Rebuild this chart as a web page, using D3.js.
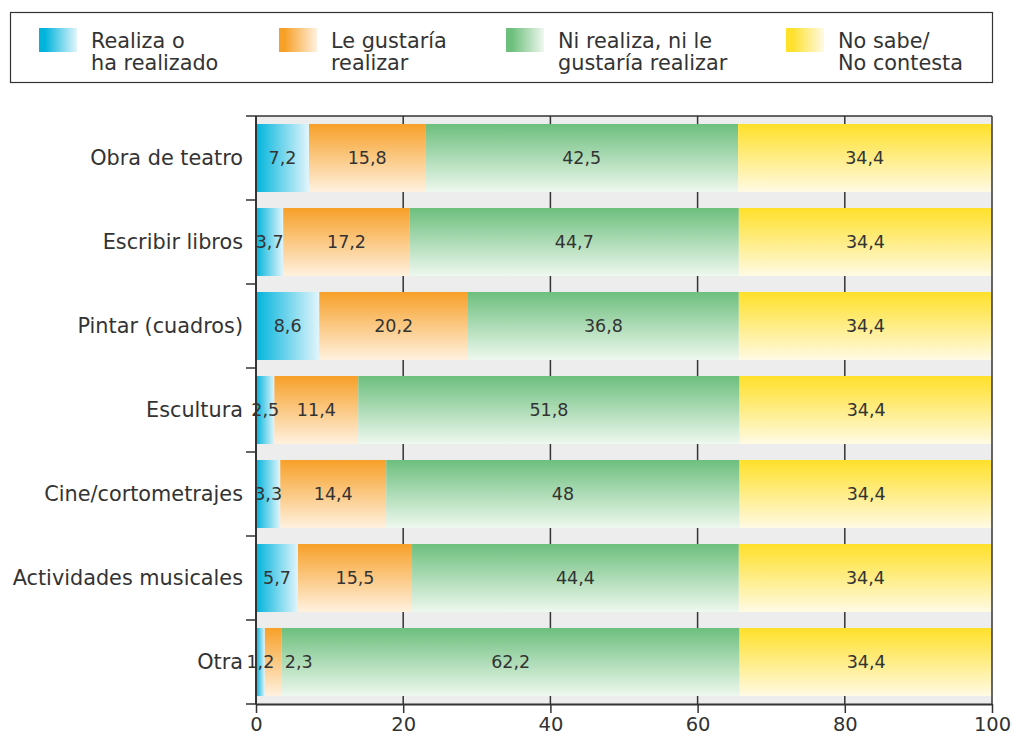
<!DOCTYPE html>
<html><head><meta charset="utf-8">
<script src="https://cdn.jsdelivr.net/npm/d3@7"></script>
<style>
body{margin:0;background:#fff;}
text{font-family:"DejaVu Sans",sans-serif;fill:#333;}
</style></head>
<body><svg id="c" width="1016" height="740"></svg>
<script>
const categories = ["Obra de teatro","Escribir libros","Pintar (cuadros)","Escultura","Cine/cortometrajes","Actividades musicales","Otra"];
const realiza = [7.2,3.7,8.6,2.5,3.3,5.7,1.2];
const gustaria = [15.8,17.2,20.2,11.4,14.4,15.5,2.3];
const niRealiza = [42.5,44.7,36.8,51.8,48,44.4,62.2];
const noSabe = [34.4,34.4,34.4,34.4,34.4,34.4,34.4];
const seriesNames = [["Realiza o","ha realizado"],["Le gustaría","realizar"],["Ni realiza, ni le","gustaría realizar"],["No sabe/","No contesta"]];
const xTicks = [0,20,40,60,80,100];

const seriesVals = [realiza,gustaria,niRealiza,noSabe];
const svg = d3.select("#c");
const defs = svg.append("defs");
const grads = [
  {id:"g0",dir:"h",c1:"#00b4dc",c2:"#e2f5fb"},
  {id:"g1",dir:"v",c1:"#f7a028",c2:"#fff1df"},
  {id:"g2",dir:"v",c1:"#6dbf7d",c2:"#eef8ef"},
  {id:"g3",dir:"v",c1:"#ffe02a",c2:"#fffae4"}
];
grads.forEach(g=>{
  const lg = defs.append("linearGradient").attr("id",g.id)
    .attr("x1",0).attr("y1",0).attr("x2",g.dir==="h"?1:0).attr("y2",g.dir==="h"?0:1);
  lg.append("stop").attr("offset","0%").attr("stop-color",g.c1);
  lg.append("stop").attr("offset","100%").attr("stop-color",g.c2);
  const lh = defs.append("linearGradient").attr("id",g.id+"L")
    .attr("x1",0).attr("y1",0).attr("x2",1).attr("y2",0);
  lh.append("stop").attr("offset","15%").attr("stop-color",g.c1);
  lh.append("stop").attr("offset","100%").attr("stop-color",g.c2);
});

// Legend
svg.append("rect").attr("x",10.5).attr("y",12.5).attr("width",982).attr("height",70)
  .attr("fill","#fff").attr("stroke","#333").attr("stroke-width",1.2);
const legX = [39,279,506,786];
seriesNames.forEach((n,i)=>{
  svg.append("rect").attr("x",legX[i]).attr("y",28).attr("width",38).attr("height",24).attr("fill",`url(#g${i}L)`);
  const t = svg.append("text").attr("x",legX[i]+52).attr("y",48).attr("font-size",20.8);
  t.append("tspan").attr("x",legX[i]+52).text(n[0]);
  t.append("tspan").attr("x",legX[i]+52).attr("dy",22).text(n[1]);
});

const m = {l:256, r:992, t:116, b:704};
const x = d3.scaleLinear().domain([0,100]).range([m.l,m.r]);
const y = d3.scaleBand().domain(categories).range([m.t,m.b]).paddingInner(0.19).paddingOuter(0.095);

svg.append("rect").attr("x",m.l).attr("y",m.t).attr("width",m.r-m.l).attr("height",m.b-m.t).attr("fill","#ededed");
// grid
svg.append("g").selectAll("line").data(xTicks.slice(1,-1)).join("line")
  .attr("x1",d=>x(d)).attr("x2",d=>x(d)).attr("y1",m.t).attr("y2",m.b)
  .attr("stroke","#333").attr("stroke-width",1.5);

// bars
const stackData = categories.map((c,i)=>{
  let acc=0;
  return seriesVals.map((s,k)=>{const o={cat:c,k:k,v:s[i],x0:acc,x1:acc+s[i]}; acc+=s[i]; return o;});
});
const rows = svg.append("g").selectAll("g").data(stackData).join("g");
rows.selectAll("rect").data(d=>d).join("rect")
  .attr("x",d=>x(d.x0)).attr("width",d=>Math.min(x(d.x1),m.r)-x(d.x0))
  .attr("y",d=>y(d.cat)).attr("height",y.bandwidth())
  .attr("fill",d=>`url(#g${d.k})`);
rows.selectAll("text").data(d=>d).join("text")
  .attr("x",d=>{const w=x(d.x1)-x(d.x0); return (w<22 && d.k>0)? x(d.x1)+3 : (x(d.x0)+x(d.x1))/2;})
  .attr("text-anchor",d=>{const w=x(d.x1)-x(d.x0); return (w<22 && d.k>0)?"start":"middle";})
  .attr("y",d=>y(d.cat)+y.bandwidth()/2).attr("dy","0.36em")
  .attr("font-size",17.5)
  .text(d=>String(d.v).replace(".",","));

// frame top/right
svg.append("line").attr("x1",m.l).attr("x2",m.r).attr("y1",m.t).attr("y2",m.t).attr("stroke","#333").attr("stroke-width",1.5);
svg.append("line").attr("x1",m.r).attr("x2",m.r).attr("y1",m.t).attr("y2",m.b).attr("stroke","#333").attr("stroke-width",1.5);

// left axis
const yb = [m.t].concat(categories.map(c=>y(c)+y.bandwidth()+y.step()*y.paddingInner()/2));
svg.append("line").attr("x1",m.l).attr("x2",m.l).attr("y1",m.t).attr("y2",m.b).attr("stroke","#333").attr("stroke-width",2);
svg.append("g").selectAll("line").data(yb).join("line")
  .attr("x1",m.l-10).attr("x2",m.l).attr("y1",d=>d).attr("y2",d=>d).attr("stroke","#333").attr("stroke-width",1.5);
svg.append("g").selectAll("text").data(categories).join("text")
  .attr("x",m.l-13).attr("y",c=>y(c)+y.bandwidth()/2).attr("dy","0.36em")
  .attr("text-anchor","end").attr("font-size",20.8).text(c=>c);

// bottom axis
const xa = svg.append("g").attr("transform",`translate(0,${m.b})`)
  .call(d3.axisBottom(x).tickValues(xTicks).tickSize(9).tickSizeOuter(0).tickPadding(4));
xa.select(".domain").attr("stroke","#333").attr("stroke-width",2);
xa.selectAll(".tick line").attr("stroke","#333").attr("stroke-width",1.5);
xa.selectAll(".tick text").attr("font-size",19.5).attr("font-family","DejaVu Sans").attr("fill","#333");
</script></body></html>
